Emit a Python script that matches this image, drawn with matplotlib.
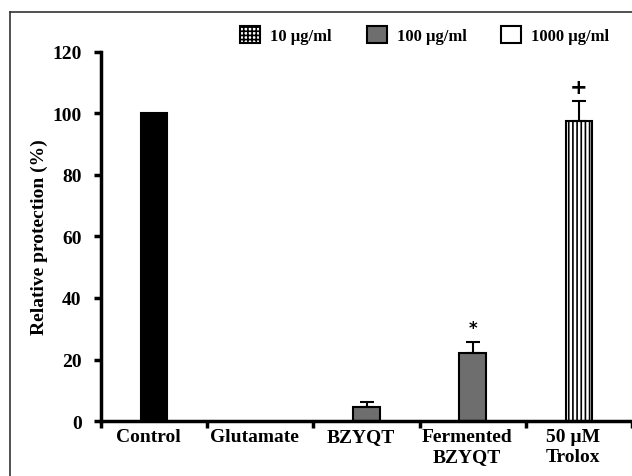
import matplotlib.pyplot as plt
from matplotlib.patches import Patch
from matplotlib.lines import Line2D
from matplotlib.transforms import ScaledTranslation
import numpy as np

# data
categories = ['Control', 'Glutamate', 'BZYQT', 'Fermented\nBZYQT', '50 \u00b5M\nTrolox']
values = [100, 0, 4.5, 22, 97.6]
errors = [0, 0, 1.8, 3.8, 6.4]
marks = ['', '', '', '*', '+']
legend_labels = ['10 \u00b5g/ml', '100 \u00b5g/ml', '1000 \u00b5g/ml']

plt.rcParams['font.family'] = ['Liberation Serif', 'DejaVu Serif']
plt.rcParams['font.weight'] = 'bold'
plt.rcParams['hatch.linewidth'] = 1.2

fig = plt.figure(figsize=(6.32, 4.77), dpi=100)
ax = fig.add_axes([0.160, 0.1153, 0.840, 0.7736])

x = np.arange(len(categories)) + 0.5
faces = ['black', 'none', '#6e6e6e', '#6e6e6e', 'white']
hatches = [None, None, None, None, '||||']

for xi, v, e, fc, h, m in zip(x, values, errors, faces, hatches, marks):
    if v <= 0:
        continue
    ax.bar(xi, v, width=0.25, color=fc, edgecolor='black', linewidth=1.5, hatch=h, zorder=2)
    if e > 0:
        ax.errorbar(xi, v, yerr=[[0], [e]], fmt='none', ecolor='black',
                    elinewidth=1.5, capsize=5, capthick=1.5, zorder=3)
    if m:
        ax.text(xi, v + e + 1.5, m, ha='center', va='bottom',
                fontsize=15 if m == '+' else 12, family='DejaVu Sans')

ax.set_xlim(0, len(categories))
ax.set_ylim(0, 120)
ax.set_yticks(range(0, 121, 20))
ax.set_xticks(np.arange(len(categories) + 1))
ax.set_xticklabels([])
ax.set_xticks(x, minor=True)
ax.set_xticklabels(categories, minor=True, fontsize=14, fontweight='bold')
ax.tick_params(axis='x', which='minor', length=0, pad=5)
ax.tick_params(axis='x', which='major', direction='out', length=5, width=2.5)
ax.tick_params(axis='y', direction='out', length=5, width=2.5, labelsize=14, pad=9)
for lbl in ax.get_yticklabels():
    lbl.set_fontweight('bold')
# labels in the original sit a little left of the bars
shift = ScaledTranslation(-6 / 100, 0, fig.dpi_scale_trans)
for lbl in ax.get_xticklabels(minor=True):
    lbl.set_transform(lbl.get_transform() + shift)

ax.spines['top'].set_visible(False)
ax.spines['right'].set_visible(False)
ax.spines['left'].set_linewidth(2.5)
ax.spines['bottom'].set_linewidth(2.5)
ax.set_ylabel('Relative protection (%)', fontsize=14, fontweight='bold', labelpad=3)

handles = [
    Patch(facecolor='white', edgecolor='black', hatch='++++', linewidth=1.5),
    Patch(facecolor='#6e6e6e', edgecolor='black', linewidth=1.5),
    Patch(facecolor='white', edgecolor='black', linewidth=1.5),
]
fig.legend(handles, legend_labels, loc='center', bbox_to_anchor=(0.672, 0.924),
           ncol=3, frameon=False, prop={'weight': 'bold', 'size': 12},
           handlelength=1.2, handleheight=1.2, columnspacing=2.1, handletextpad=0.6)

# thin frame along the top and left edges of the image
fig.add_artist(Line2D([0.016, 1.0], [0.973, 0.973], color='#333333', lw=1.2,
                      transform=fig.transFigure))
fig.add_artist(Line2D([0.016, 0.016], [0.0, 0.973], color='#333333', lw=1.2,
                      transform=fig.transFigure))

fig.savefig('out.png', dpi=100)
